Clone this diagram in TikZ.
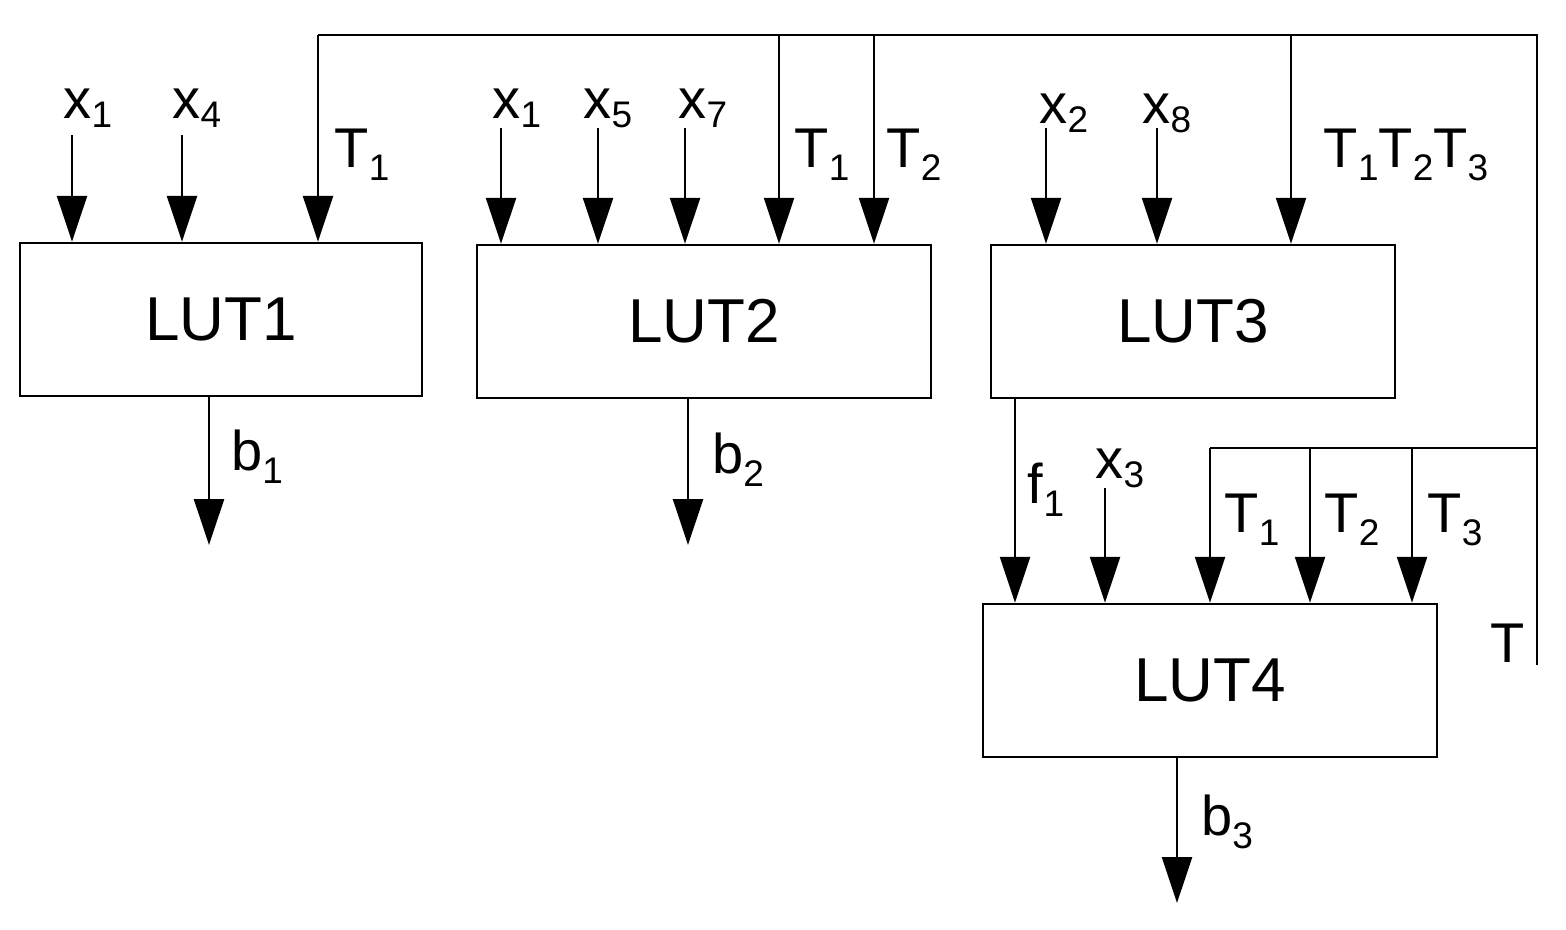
\documentclass[tikz,border=0pt]{standalone}
\usepackage{fontspec}
\setmainfont{Liberation Sans}
\usetikzlibrary{arrows.meta}
\newcommand{\lb}[2]{#1\raisebox{-0.3ex}{\fontsize{37}{37}\selectfont #2}}
\newcommand{\ls}[2]{#1\raisebox{-0.45ex}{\fontsize{37}{37}\selectfont #2}}
\begin{document}
\begin{tikzpicture}[x=1pt,y=-1pt,
  lut/.style={draw,line width=2.5pt,minimum width=#1,minimum height=153pt,inner sep=0pt,font=\fontsize{62}{62}\selectfont},
  ar/.style={line width=2.5pt,-{Triangle[length=46pt,width=30pt]}},
  ln/.style={line width=2.5pt},
  lab/.style={font=\fontsize{56}{56}\selectfont,inner sep=0pt}]
\useasboundingbox (0,0) rectangle (1566,929);
\node[lut=402pt] (L1) at (221,319.5) {LUT1};
\node[lut=454pt] (L2) at (704,321.5) {LUT2};
\node[lut=404pt] (L3) at (1193,321.5) {LUT3};
\node[lut=454pt] (L4) at (1210,680.5) {LUT4};
% bus
\coordinate (b0) at (318,35);
\coordinate (b1) at (1537,35);
\coordinate (b2) at (1537,665);
\coordinate (c1) at (1537,448);
\coordinate (c0) at (1210,448);
\draw[ln] (b0) -- (b1) -- (b2);
\draw[ln] (c1) -- (c0);
% LUT1
\foreach \x/\n in {72/a,182/b}{\coordinate (s1\n) at (\x,135); \draw[ar] (s1\n) -- (s1\n |- L1.north);}
\draw[ar] (b0) -- (b0 |- L1.north);
% LUT2
\foreach \x/\n in {501/a,598/b,685/c}{\coordinate (s2\n) at (\x,128); \draw[ar] (s2\n) -- (s2\n |- L2.north);}
\coordinate (t21) at (779,35); \coordinate (t22) at (874,35);
\draw[ar] (t21) -- (t21 |- L2.north);
\draw[ar] (t22) -- (t22 |- L2.north);
% LUT3
\foreach \x/\n in {1046/a,1157/b}{\coordinate (s3\n) at (\x,128); \draw[ar] (s3\n) -- (s3\n |- L3.north);}
\coordinate (t3) at (1291,35);
\draw[ar] (t3) -- (t3 |- L3.north);
% LUT4
\coordinate (f1) at (1015,398);
\draw[ar] (f1) -- (f1 |- L4.north);
\coordinate (x3) at (1105,488);
\draw[ar] (x3) -- (x3 |- L4.north);
\coordinate (t41) at (1210,448); \coordinate (t42) at (1310,448); \coordinate (t43) at (1412,448);
\foreach \n in {t41,t42,t43}{\draw[ar] (\n) -- (\n |- L4.north);}
% outputs
\coordinate (o1) at (209,396); \coordinate (o2) at (688,398); \coordinate (o3) at (1177,756);
\draw[ar] (o1) -- ++(0,149);
\draw[ar] (o2) -- ++(0,147);
\draw[ar] (o3) -- ++(0,147);
% labels
\node[lab] (lx11) at (88,108) {\lb{x}{1}};
\node[lab] (lx4) at (197,108) {\lb{x}{4}};
\node[lab] (lt1) at (362,155) {\ls{T}{1}};
\node[lab] (lx21) at (517,108) {\lb{x}{1}};
\node[lab] (lx5) at (608,108) {\lb{x}{5}};
\node[lab] (lx7) at (703,108) {\lb{x}{7}};
\node[lab] (lt21) at (822,155) {\ls{T}{1}};
\node[lab] (lt22) at (914,155) {\ls{T}{2}};
\node[lab] (lx2) at (1064,113) {\lb{x}{2}};
\node[lab] (lx8) at (1167,113) {\lb{x}{8}};
\node[lab] (lt3) at (1406,155) {\ls{T}{1}\ls{T}{2}\ls{T}{3}};
\node[lab] (lf1) at (1046,490) {\ls{f}{1}};
\node[lab] (lx3) at (1120,468) {\lb{x}{3}};
\node[lab] (lt41) at (1252,520) {\ls{T}{1}};
\node[lab] (lt42) at (1352,520) {\ls{T}{2}};
\node[lab] (lt43) at (1455,520) {\ls{T}{3}};
\node[lab] (lT) at (1508,643) {T};
\node[lab] (lb1) at (257,457) {\ls{b}{1}};
\node[lab] (lb2) at (738,460) {\ls{b}{2}};
\node[lab] (lb3) at (1227,822) {\ls{b}{3}};
\end{tikzpicture}
\end{document}
